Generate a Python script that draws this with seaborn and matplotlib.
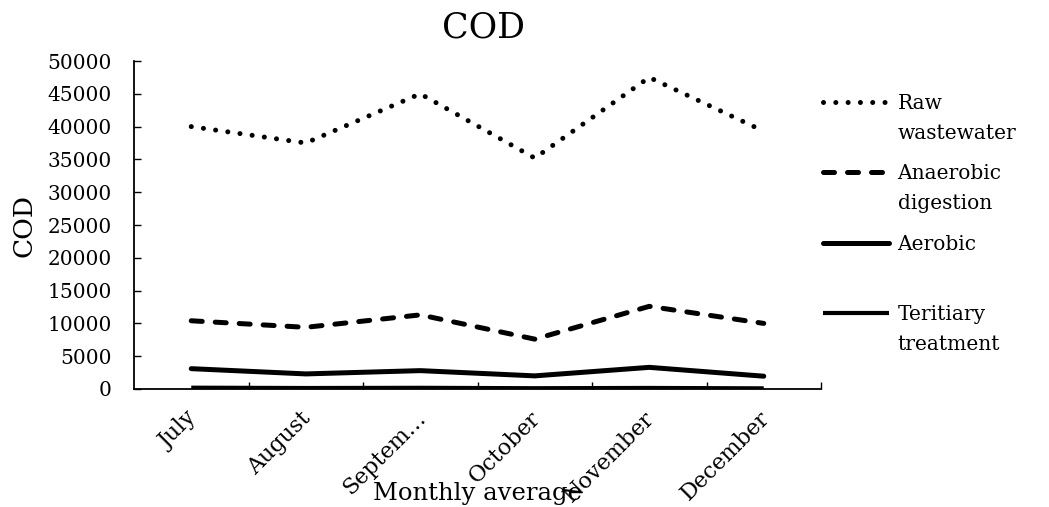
import numpy as np
import pandas as pd
import matplotlib
matplotlib.use("Agg")
import matplotlib.pyplot as plt
import matplotlib.transforms as mtransforms
import seaborn as sns
from matplotlib.lines import Line2D
from matplotlib.text import Annotation

# datos (valores medios mensuales de COD)
months = ["July", "August", "Septem…", "October", "November", "December"]
raw = [40000, 37500, 45000, 35200, 47500, 39300]
anaerobic = [10400, 9400, 11300, 7600, 12600, 10000]
aerobic = [3100, 2300, 2800, 2000, 3300, 1950]
tertiary = [200, 150, 180, 120, 160, 100]

series_names = ["Raw wastewater", "Anaerobic digestion", "Aerobic", "Teritiary treatment"]
series_values = [raw, anaerobic, aerobic, tertiary]

rows = []
for name, vals in zip(series_names, series_values):
    for i, (m, v) in enumerate(zip(months, vals)):
        rows.append({"pos": i, "month": m, "series": name, "value": v})
df = pd.DataFrame(rows)

sns.set_theme(style="white")
plt.rcParams["font.family"] = ["DejaVu Serif"]
plt.rcParams["text.color"] = "black"
plt.rcParams["axes.labelcolor"] = "black"
plt.rcParams["xtick.color"] = "black"
plt.rcParams["ytick.color"] = "black"

# estilos: (ancho, patron, remate)
styles = {
    "Raw wastewater": (3.6, (0.01, 2.45), "round"),
    "Anaerobic digestion": (3.6, (2.2, 2.6), "round"),
    "Aerobic": (3.6, None, "round"),
    "Teritiary treatment": (3.0, None, "butt"),
}

fig = plt.figure(figsize=(10.49, 5.07), dpi=100)
ax = fig.add_axes([134 / 1049, 1 - 389 / 507, (821 - 134) / 1049, (389 - 61) / 507])

handles = []
for name in series_names:
    lw, dash, cap = styles[name]
    sub = df[df["series"] == name]
    sns.lineplot(data=sub, x="pos", y="value", ax=ax, color="black", lw=lw,
                 legend=False, sort=False)
    line = ax.lines[-1]
    h = Line2D([], [], color="black", lw=lw)
    for ln in (line, h):
        if dash is not None:
            ln.set_dashes(dash)
            ln.set_dash_capstyle(cap)
        else:
            ln.set_solid_capstyle(cap)
    handles.append(h)

ax.set_xlim(-0.5, 5.5)
ax.set_ylim(0, 50000)
ax.set_yticks(np.arange(0, 50001, 5000))
ax.set_xticks(range(len(months)))
ax.set_xticklabels(months, rotation=45, ha="right", fontsize=16)
ax.set_xticks(np.arange(0.5, 6, 1), minor=True)
ax.tick_params(axis="x", which="major", length=0, pad=13)
ax.tick_params(axis="x", which="minor", direction="in", length=5, width=1, bottom=True)
ax.tick_params(axis="y", direction="in", length=5, width=1, left=True, labelsize=14.5, pad=16)

# desplazar etiquetas del eje x un poco a la derecha
shift = mtransforms.ScaledTranslation(10 / 100, 0, fig.dpi_scale_trans)
for lbl in ax.get_xticklabels():
    lbl.set_transform(lbl.get_transform() + shift)

for s in ["top", "right"]:
    ax.spines[s].set_visible(False)
for s in ["left", "bottom"]:
    ax.spines[s].set_color("black")
    ax.spines[s].set_linewidth(1.3)

ax.set_title("COD", fontsize=25, pad=17, x=0.509)
ax.set_xlabel("Monthly average", fontsize=17.5)
ax.xaxis.set_label_coords(0.5, -0.285)
ax.set_ylabel("COD", fontsize=19, labelpad=8)

first_lines = [n.split(" ")[0] for n in series_names]
second_lines = [n.split(" ", 1)[1] if " " in n else "" for n in series_names]
leg = fig.legend(handles, first_lines, loc="upper left",
                 bbox_to_anchor=(823 / 1049, 1 - 94 / 507), frameon=False,
                 fontsize=14.5, handlelength=3.3, handletextpad=0.4,
                 labelspacing=2.55, borderpad=0, borderaxespad=0)
# segunda linea de cada etiqueta, debajo de la primera
for txt, extra in zip(leg.get_texts(), second_lines):
    if extra:
        ann = Annotation(extra, xy=(0, 0), xycoords=txt, xytext=(0, -30),
                         textcoords="offset pixels", fontsize=14.5,
                         va="bottom", ha="left", zorder=10)
        fig.add_artist(ann)

fig.savefig("out.png", dpi=100)
